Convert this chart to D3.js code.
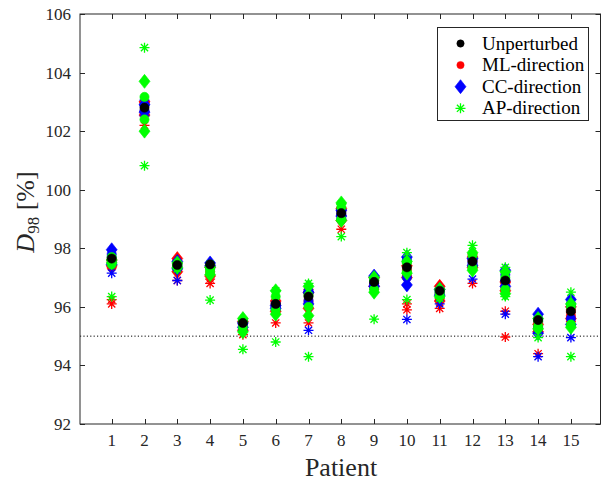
<!DOCTYPE html>
<html>
<head>
<meta charset="utf-8">
<script src="https://cdn.jsdelivr.net/npm/d3@7"></script>
<style>
  body { margin: 0; background: #fff; }
  svg { display: block; }
  text { font-family: "Liberation Serif", "DejaVu Serif", serif; }
</style>
</head>
<body>
<script>
// patients on the x axis
var patients = d3.range(1, 16);
var yTicks = [92, 94, 96, 98, 100, 102, 104, 106];
var threshold = 95;

var unperturbed = [97.65, 102.8, 97.43, 97.45, 95.45, 96.1, 96.35, 99.2, 96.85, 97.35, 96.55, 97.55, 96.9, 95.55, 95.85];

// ML-direction (red): two values per patient for each marker shape
var mlCircle = [[97.55,97.35],[102.95,102.65],[97.55,97.3],[97.4,97.2],[95.5,95.35],[96.15,96.0],[96.45,96.2],[99.3,99.1],[96.95,96.8],[97.25,97.05],[96.6,96.3],[97.6,97.4],[96.8,96.65],[95.45,95.25],[95.9,95.7]];
var mlDiamond = [[97.6,97.4],[103.0,102.55],[97.65,97.2],[97.35,97.05],[95.5,95.2],[96.2,95.85],[96.5,95.95],[99.35,98.95],[97.0,96.7],[97.4,97.0],[96.7,96.2],[97.7,97.35],[96.85,96.55],[95.4,95.15],[96.0,95.6]];
var mlStar = [[96.25,96.1],[103.0,102.2],[97.5,96.9],[96.95,96.8],[95.45,95.05],[96.1,95.45],[96.6,95.45],[99.4,98.65],[96.9,96.6],[96.1,95.9],[96.45,95.95],[97.8,96.8],[95.85,94.97],[95.35,94.4],[95.8,95.5]];

// CC-direction (blue)
var ccCircle = [[97.8,97.5],[102.9,102.7],[97.5,97.35],[97.45,97.4],[95.5,95.4],[96.1,96.0],[96.55,96.2],[99.25,99.15],[96.95,96.8],[97.6,97.0],[96.55,96.45],[97.6,97.45],[97.1,96.9],[95.6,95.3],[96.1,95.6]];
var ccDiamond = [[97.95,97.45],[102.9,102.65],[97.55,97.3],[97.5,97.4],[95.45,95.3],[96.05,95.95],[96.5,96.1],[99.3,99.1],[97.05,96.7],[97.7,96.75],[96.6,96.4],[97.65,97.4],[97.25,96.7],[95.75,95.1],[96.25,95.4]];
var ccStar = [[97.7,97.15],[103.06,102.52],[97.4,96.9],[97.45,97.3],[95.4,95.2],[96.0,95.9],[96.45,95.2],[99.3,99.0],[97.0,96.65],[97.5,95.57],[96.5,96.1],[97.5,96.95],[96.9,95.75],[95.5,94.3],[96.0,94.95]];

// AP-direction (green)
var apCircle = [[97.7,97.45],[103.17,102.4],[97.45,97.4],[97.3,97.2],[95.5,95.3],[96.35,95.9],[96.4,96.0],[99.4,99.0],[96.9,96.6],[97.5,97.2],[96.55,96.45],[97.75,97.35],[97.0,96.6],[95.55,95.35],[96.0,95.4]];
var apDiamond = [[97.6,97.5],[103.7,102.0],[97.5,97.35],[97.35,97.1],[95.6,95.15],[96.55,95.75],[96.7,95.7],[99.55,98.95],[97.0,96.5],[97.55,97.15],[96.6,96.35],[97.85,97.25],[97.2,96.45],[95.6,95.25],[96.1,95.3]];
var apStar = [[97.6,96.35],[104.85,100.82],[97.45,97.3],[97.45,96.23],[95.5,94.55],[96.55,94.8],[96.8,94.3],[99.5,98.4],[96.9,95.58],[97.85,96.25],[96.5,96.3],[98.1,97.3],[97.35,96.35],[95.5,94.95],[96.5,94.3]];

var width = 601, height = 482;
var plotLeft = 80, plotRight = 600.5, plotTop = 14, plotBottom = 424;
var serif = "'Liberation Serif', 'DejaVu Serif', serif";

var svg = d3.select("body").append("svg")
    .attr("width", width)
    .attr("height", height);

var x = d3.scaleLinear().domain([0, 16]).range([78.9, 78.9 + 16 * 32.8]);
var y = d3.scaleLinear().domain([92, 106]).range([plotBottom, plotTop]);

// marker shapes, matlab style
function markerPath(shape) {
    if (shape == "circle") return d3.symbol().type(d3.symbolCircle).size(Math.PI * 4.6 * 4.6)();
    if (shape == "diamond") return "M0,-7L5.5,0L0,7L-5.5,0Z";
    var r = 5, d = 3.6;
    return "M" + -r + ",0H" + r + "M0," + -r + "V" + r +
        "M" + -d + "," + -d + "L" + d + "," + d + "M" + -d + "," + d + "L" + d + "," + -d;
}

function drawMarker(g, shape, color) {
    var p = g.append("path").attr("d", markerPath(shape));
    if (shape == "star") p.attr("fill", "none").attr("stroke", color).attr("stroke-width", 1.3);
    else p.attr("fill", color).attr("stroke", color).attr("stroke-width", 0.6);
    return p;
}

// dotted line at 95 %
svg.append("line")
    .attr("x1", plotLeft).attr("x2", plotRight)
    .attr("y1", y(threshold)).attr("y2", y(threshold))
    .attr("stroke", "#000").attr("stroke-width", 1)
    .attr("stroke-dasharray", "1.2,2.2");

var series = [
    { color: "#ff0000", sets: [["circle", mlCircle], ["diamond", mlDiamond], ["star", mlStar]] },
    { color: "#0000ff", sets: [["circle", ccCircle], ["diamond", ccDiamond], ["star", ccStar]] },
    { color: "#00ff00", sets: [["circle", apCircle], ["diamond", apDiamond], ["star", apStar]] }
];

var marks = svg.append("g").attr("class", "marks");
series.forEach(function(s) {
    s.sets.forEach(function(set) {
        set[1].forEach(function(pair, i) {
            pair.forEach(function(v) {
                drawMarker(marks, set[0], s.color)
                    .attr("transform", "translate(" + x(patients[i]) + "," + y(v) + ")");
            });
        });
    });
});

unperturbed.forEach(function(v, i) {
    drawMarker(marks, "circle", "#000")
        .attr("transform", "translate(" + x(patients[i]) + "," + y(v) + ")");
});

// axes box
var axisColor = "#262626";
svg.append("rect")
    .attr("x", plotLeft).attr("y", plotTop)
    .attr("width", plotRight - plotLeft).attr("height", plotBottom - plotTop)
    .attr("fill", "none").attr("stroke", axisColor).attr("stroke-width", 1);

var ticks = svg.append("g").attr("stroke", axisColor).attr("stroke-width", 1);
patients.forEach(function(p) {
    var px = Math.round(x(p)) + 0.5;
    ticks.append("line").attr("x1", px).attr("x2", px).attr("y1", plotBottom).attr("y2", plotBottom - 5);
    ticks.append("line").attr("x1", px).attr("x2", px).attr("y1", plotTop).attr("y2", plotTop + 5);
});
yTicks.forEach(function(t) {
    var py = Math.round(y(t)) + 0.5;
    ticks.append("line").attr("x1", plotLeft).attr("x2", plotLeft + 5).attr("y1", py).attr("y2", py);
    ticks.append("line").attr("x1", plotRight).attr("x2", plotRight - 5).attr("y1", py).attr("y2", py);
});

svg.append("g").selectAll("text")
    .data(patients)
    .enter().append("text")
    .attr("x", function(d) { return x(d); })
    .attr("y", 446)
    .attr("text-anchor", "middle")
    .attr("font-family", serif)
    .attr("font-size", 17)
    .attr("fill", axisColor)
    .text(function(d) { return d; });

svg.append("g").selectAll("text")
    .data(yTicks)
    .enter().append("text")
    .attr("x", 71)
    .attr("y", function(d) { return y(d) + 6; })
    .attr("text-anchor", "end")
    .attr("font-family", serif)
    .attr("font-size", 17)
    .attr("fill", axisColor)
    .text(function(d) { return d; });

// axis labels
svg.append("text")
    .attr("x", 341).attr("y", 476)
    .attr("text-anchor", "middle")
    .attr("font-family", serif)
    .attr("font-size", 26)
    .attr("fill", axisColor)
    .text("Patient");

var yl = svg.append("text")
    .attr("transform", "translate(34,212) rotate(-90)")
    .attr("text-anchor", "middle")
    .attr("font-family", serif)
    .attr("font-size", 26)
    .attr("fill", axisColor);
yl.append("tspan").attr("font-style", "italic").text("D");
yl.append("tspan").attr("font-size", 17).attr("dy", 5).text("98");
yl.append("tspan").attr("dy", -5).text(" [%]");

// legend
var legendItems = [
    { label: "Unperturbed", shape: "circle", color: "#000" },
    { label: "ML-direction", shape: "circle", color: "#ff0000" },
    { label: "CC-direction", shape: "diamond", color: "#0000ff" },
    { label: "AP-direction", shape: "star", color: "#00ff00" }
];
var lg = svg.append("g").attr("class", "legend");
lg.append("rect")
    .attr("x", 437.5).attr("y", 27.5)
    .attr("width", 151).attr("height", 93)
    .attr("fill", "#fff").attr("stroke", axisColor).attr("stroke-width", 1);
legendItems.forEach(function(d, i) {
    var cy = 43.5 + i * 21.6;
    var m = drawMarker(lg, d.shape, d.color).attr("transform", "translate(460.5," + cy + ")");
    if (d.shape == "circle") m.attr("transform", "translate(460.5," + cy + ") scale(0.8)");
    lg.append("text")
        .attr("x", 482).attr("y", cy + 6)
        .attr("font-family", serif)
        .attr("font-size", 19)
        .attr("fill", "#000")
        .text(d.label);
});
</script>
</body>
</html>
